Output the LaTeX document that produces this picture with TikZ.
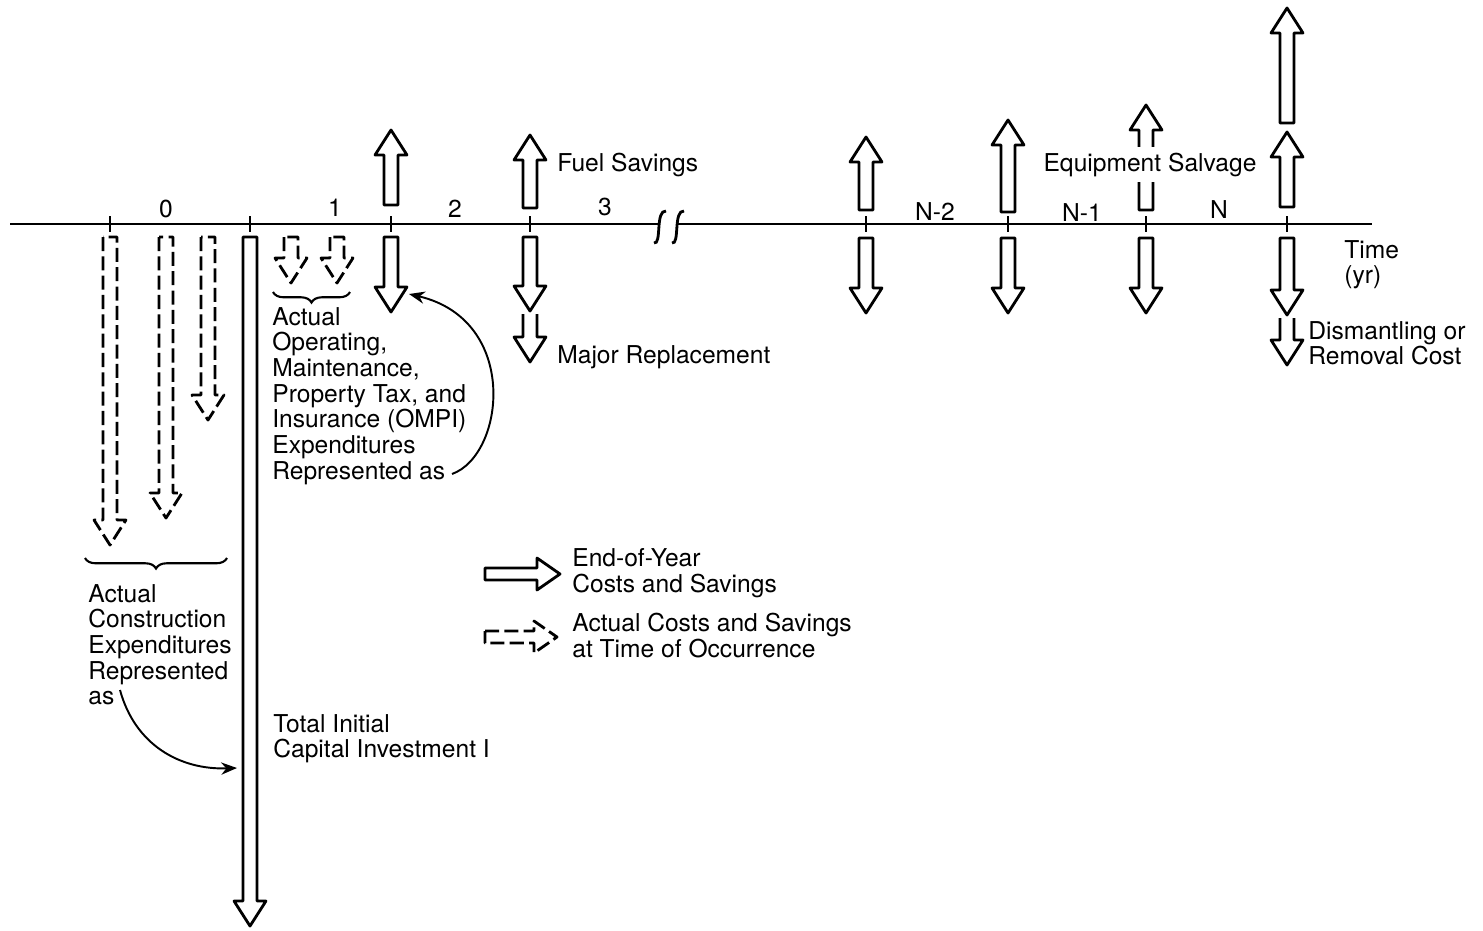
\documentclass[tikz,border=0pt]{standalone}
\usepackage{fontspec}
\setmainfont{TeX Gyre Heros}
\usetikzlibrary{arrows.meta,decorations.pathreplacing}

\tikzset{
  cash/.style={line width=1.6pt,line join=round},
  actual/.style={cash,dash pattern=on 8pt off 3pt},
  lbl/.style={font=\fontsize{14}{14.6}\selectfont,inner sep=0pt,align=left},
  pointer/.style={line width=1.1pt,-{Stealth[length=9pt,width=7pt]}},
  bracket/.style={line width=1.2pt,decorate,decoration={brace,mirror,amplitude=6pt}}
}

% hollow block arrows: [style] x, y of flat end, y of tip
\newcommand{\upflow}[4][cash]{\draw[#1] (#2-7,#3) -- (#2-7,#4+25) -- (#2-16,#4+25) -- (#2,#4) -- (#2+16,#4+25) -- (#2+7,#4+25) -- (#2+7,#3) -- cycle;}
\newcommand{\downflow}[4][cash]{\draw[#1] (#2-7,#3) -- (#2-7,#4-25) -- (#2-16,#4-25) -- (#2,#4) -- (#2+16,#4-25) -- (#2+7,#4-25) -- (#2+7,#3) -- cycle;}
% second arrow hung below another one, open at the top
\newcommand{\downmore}[3]{\draw[cash] (#1-7,#2) -- (#1-7,#3-25) -- (#1-16,#3-25) -- (#1,#3) -- (#1+16,#3-25) -- (#1+7,#3-25) -- (#1+7,#2);}

\begin{document}
\begin{tikzpicture}[x=0.02cm,y=-0.02cm]
  \useasboundingbox (0,0) rectangle (1483,930);

  % Draw the time axis with its break
  \draw[line width=1.6pt] (10,224) -- (660,224);
  \draw[line width=1.6pt] (678,224) -- (1372,224);
  \draw[line width=1.6pt] (654,243) .. controls (662,245) and (655,210) .. (666,211);
  \draw[line width=1.6pt] (672,243) .. controls (680,245) and (673,210) .. (684,211);
  \foreach \t in {110,250,391,530,866,1008,1146,1287}
    \draw[line width=1.6pt] (\t,216) -- (\t,232);

  % Year labels
  \node[lbl] (year0) at (166,209) {0};
  \node[lbl] (year1) at (335,208) {1};
  \node[lbl] (year2) at (455,209) {2};
  \node[lbl] (year3) at (605,207) {3};
  \node[lbl] (yearN2) at (935,212) {N-2};
  \node[lbl] (yearN1) at (1082,213) {N-1};
  \node[lbl] (yearN) at (1219,210) {N};
  \node[lbl,anchor=north west] (time) at (1344,240) {Time\\(yr)};

  % End-of-year savings
  \upflow{391}{205}{130}
  \upflow{530}{208}{135}
  \upflow{866}{210}{137}
  \upflow{1008}{212}{120}
  \upflow{1146}{210}{105}
  \upflow{1287}{207}{132}
  \upflow{1287}{123}{8}

  % End-of-year costs
  \downflow{250}{237}{926}
  \downflow{391}{237}{312}
  \downflow{530}{237}{311}
  \downflow{866}{238}{313}
  \downflow{1008}{238}{313}
  \downflow{1146}{238}{313}
  \downflow{1287}{238}{315}
  \downmore{530}{314}{362}
  \downmore{1287}{318}{365}

  % Actual costs at time of occurrence
  \downflow[actual]{110}{237}{545}
  \downflow[actual]{166}{237}{518}
  \downflow[actual]{208}{237}{420}
  \downflow[actual]{291}{237}{283}
  \downflow[actual]{337}{237}{283}

  % Braces
  \draw[bracket] (273,292) -- (350,292);
  \draw[bracket] (85,558) -- (227,558);

  % Labels
  \node[lbl,anchor=base west] (fuel) at (557,171) {Fuel Savings};
  \node[lbl,anchor=base west] (major) at (557,363) {Major Replacement};
  \node[lbl,anchor=base,fill=white,inner xsep=2pt,inner ysep=3pt] (salvage) at (1150,171) {Equipment Salvage};
  \node[lbl,anchor=north west] (dismantle) at (1308,321) {Dismantling or\\Removal Cost};
  \node[lbl,anchor=north west] (ompi) at (272,307)
    {Actual\\Operating,\\Maintenance,\\Property Tax, and\\Insurance (OMPI)\\Expenditures\\Represented as};
  \node[lbl,anchor=north west] (construct) at (88,584)
    {Actual\\Construction\\Expenditures\\Represented\\as};
  \node[lbl,anchor=north west] (total) at (273,714) {Total Initial\\Capital Investment I};

  % Pointers
  \coordinate (ompitail) at (452,474);
  \coordinate (ompitip) at (409,294);
  \draw[pointer] (ompitail) .. controls (505,455) and (520,320) .. (ompitip);
  \coordinate (constail) at (120,690);
  \coordinate (constip) at (237,768);
  \draw[pointer] (constail) .. controls (135,745) and (180,770) .. (constip);

  % Legend
  \draw[cash] (485,568) -- (537,568) -- (537,558) -- (560,574) -- (537,590) -- (537,580) -- (485,580) -- cycle;
  \draw[actual] (485,631) -- (534,631) -- (534,621) -- (557,637) -- (534,653) -- (534,643) -- (485,643) -- cycle;
  \node[lbl,anchor=north west] (endyear) at (572,548) {End-of-Year\\Costs and Savings};
  \node[lbl,anchor=north west] (occur) at (572,613) {Actual Costs and Savings\\at Time of Occurrence};
\end{tikzpicture}
\end{document}
